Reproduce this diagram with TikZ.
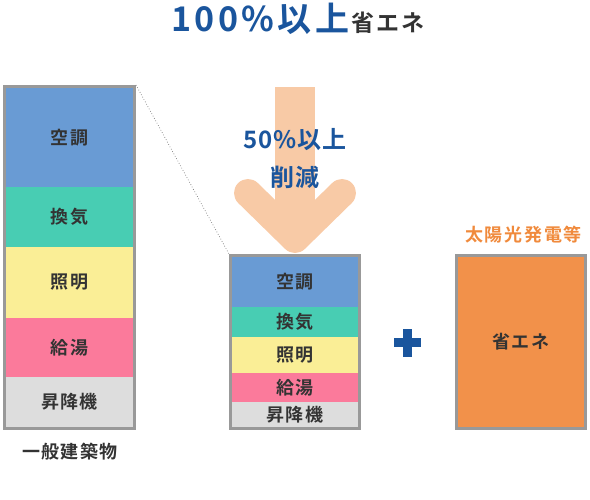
\documentclass[tikz,border=0pt]{standalone}
\usepackage{fontspec}
\setmainfont{Noto Sans CJK JP}[BoldFont={Noto Sans CJK JP Bold}]
\newfontfamily\jpb{Noto Sans CJK JP Bold}
\newfontfamily\jpbl{Noto Sans CJK JP Bold}[LetterSpace=8]
\newfontfamily\jpbt{Noto Sans CJK JP Bold}[LetterSpace=10]
\newfontfamily\jpbp{Noto Sans CJK JP Bold}[LetterSpace=4]
\definecolor{titleblue}{HTML}{1A559D}
\definecolor{txtgray}{HTML}{333333}
\definecolor{bordergray}{HTML}{999999}
\definecolor{cAC}{HTML}{699BD4}
\definecolor{cVent}{HTML}{48CDB3}
\definecolor{cLight}{HTML}{FAEE96}
\definecolor{cHot}{HTML}{FB7A9B}
\definecolor{cElev}{HTML}{DDDDDD}
\definecolor{cOrange}{HTML}{F2914A}
\definecolor{cOrangeTxt}{HTML}{F08A3C}
\definecolor{cPeach}{HTML}{F8CAA6}
\begin{document}
\begin{tikzpicture}[x=1pt,y=-1pt,
  seg/.style={draw=none,inner sep=0pt,minimum width=127pt,text=txtgray,font=\jpbl\fontsize{18}{20}\selectfont},
  frame/.style={draw=bordergray,line width=3pt},
  lbl/.style={inner sep=0pt,text=txtgray,font=\jpbl\fontsize{18}{20}\selectfont}]
\useasboundingbox (0,0) rectangle (590,500);
% title
\node[anchor=base west,inner sep=0pt,text=titleblue,font=\jpbt\fontsize{34}{36}\selectfont] (t1) at (171,32) {100\%以上};
\node[anchor=base west,inner sep=0pt,text=txtgray,font=\jpbl\fontsize{23}{25}\selectfont] (t2) at ([xshift=2pt]t1.base east) {省エネ};
% left stack
\node[seg,fill=cAC,minimum height=99pt] (l1) at (69.5,137.5) {空調};
\node[seg,fill=cVent,minimum height=60pt] (l2) at (69.5,217) {換気};
\node[seg,fill=cLight,minimum height=71pt] (l3) at (69.5,282.5) {照明};
\node[seg,fill=cHot,minimum height=59pt] (l4) at (69.5,347.5) {給湯};
\node[seg,fill=cElev,minimum height=50pt] (l5) at (69.5,402) {昇降機};
\node[frame,inner sep=0pt,minimum width=130pt,minimum height=342pt] (lbox) at (69.5,257.5) {};
\node[lbl] (lname) at (70,452) {一般建築物};
% arrow
\coordinate (atip) at (295,239);
\coordinate (aleft) at (248,193);
\coordinate (aright) at (342,193);
\fill[cPeach] (275,87) rectangle (315,239);
\draw[cPeach,line width=28pt,line cap=round,line join=round] (aleft) -- (atip) -- (aright);
\node[inner sep=0pt,text=titleblue,font=\jpbp\fontsize{24}{26}\selectfont] (p1) at (295,140) {50\%以上};
\node[inner sep=0pt,text=titleblue,font=\jpbp\fontsize{24}{26}\selectfont] (p2) at (295,177) {削減};
% middle stack
\node[seg,fill=cAC,minimum height=50pt] (m1) at (295,282) {空調};
\node[seg,fill=cVent,minimum height=30pt] (m2) at (295,322) {換気};
\node[seg,fill=cLight,minimum height=36pt] (m3) at (295,355) {照明};
\node[seg,fill=cHot,minimum height=29pt] (m4) at (295,387.5) {給湯};
\node[seg,fill=cElev,minimum height=25pt] (m5) at (295,414.5) {昇降機};
\node[frame,inner sep=0pt,minimum width=129pt,minimum height=173pt] (mbox) at (295,342) {};
% dotted connector
\draw[bordergray!80!black,dotted,line width=0.7pt] (lbox.north east) -- (mbox.north west);
% plus
\node[inner sep=0pt] (plus) at (407,343) {};
\fill[titleblue] (394,338.5) rectangle (421,347.5);
\fill[titleblue] (402.5,329.5) rectangle (411.5,356.5);
% right box
\node[frame,fill=cOrange,inner sep=0pt,minimum width=129pt,minimum height=173pt,text=txtgray,font=\jpbl\fontsize{18}{20}\selectfont] (rbox) at (521,342) {省エネ};
\node[inner sep=0pt,text=cOrangeTxt,font=\jpbt\fontsize{18}{20}\selectfont] (rname) at (523.5,235) {太陽光発電等};
\end{tikzpicture}
\end{document}
